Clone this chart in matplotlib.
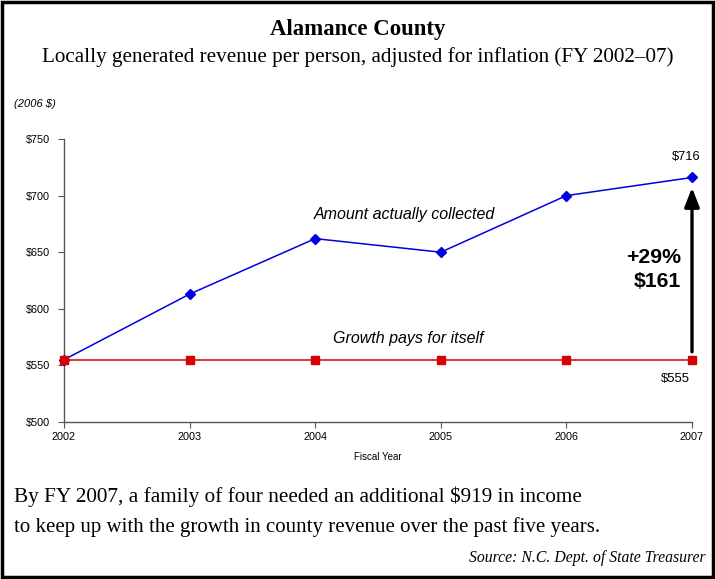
import matplotlib
matplotlib.use("Agg")
import matplotlib.pyplot as plt
from matplotlib.patches import Rectangle
from matplotlib.ticker import MultipleLocator, FuncFormatter

# Data
years = [2002, 2003, 2004, 2005, 2006, 2007]
collected = [555, 613, 662, 650, 700, 716]
growth_pays = [555, 555, 555, 555, 555, 555]

SERIF = ["Liberation Serif", "DejaVu Serif"]
SANS = ["Liberation Sans", "DejaVu Sans"]

fig = plt.figure(figsize=(7.15, 5.79), dpi=100)
renderer = fig.canvas.get_renderer()


def fit(t, width_px):
    # scale font so the text spans the given pixel width
    w = t.get_window_extent(renderer).width
    t.set_fontsize(t.get_fontsize() * width_px / w)
    return t


ax = fig.add_axes([64 / 715, 1 - 422 / 579, (692 - 64) / 715, (422 - 139) / 579])

ax.plot(years, collected, color="#0000e0", linewidth=1.1, marker="D", markersize=4.6, zorder=3, clip_on=False)
ax.plot(years, growth_pays, color="#d80000", linewidth=1.1, marker="s", markersize=5.6, zorder=3, clip_on=False)

ax.set_xlim(2002, 2007)
ax.set_ylim(500, 750)
ax.margins(0)
ax.yaxis.set_major_locator(MultipleLocator(50))
ax.xaxis.set_major_locator(MultipleLocator(1))
ax.yaxis.set_major_formatter(FuncFormatter(lambda v, p: f"${v:.0f}"))
for s in ["top", "right"]:
    ax.spines[s].set_visible(False)
for s in ["left", "bottom"]:
    ax.spines[s].set_color("#555555")
    ax.spines[s].set_linewidth(1.0)
ax.tick_params(axis="both", labelsize=7.8, color="#555555", length=4, direction="out")
ax.tick_params(axis="y", pad=6)
for lab in ax.get_xticklabels() + ax.get_yticklabels():
    lab.set_family(SANS)
ax.set_xlabel("Fiscal Year", fontsize=7, family=SANS, labelpad=7)

# Annotations
last = years[-1]
ax.annotate("", xy=(last, collected[-1] - 9), xytext=(last, growth_pays[-1] + 7),
            arrowprops=dict(arrowstyle="-|>,head_width=0.45,head_length=1.15", color="black", lw=2.4,
                            shrinkA=0, shrinkB=0))
fit(ax.text(last - 0.05, collected[-1] + 13, f"${collected[-1]}", ha="center", va="bottom", fontsize=9, family=SANS), 29)
fit(ax.text(last - 0.13, 538, f"${growth_pays[-1]}", ha="center", va="center", fontsize=9, family=SANS), 29)
diff = collected[-1] - growth_pays[-1]
pct = round(diff / growth_pays[-1] * 100)
t = fit(ax.text(last - 0.09, 645, f"+{pct}%", ha="right", va="center", fontsize=15, fontweight="bold", family=SANS), 55)
ax.text(last - 0.09, 624.5, f"${diff}", ha="right", va="center", fontsize=t.get_fontsize(), fontweight="bold", family=SANS)
fit(ax.text(2004.71, 683, "Amount actually collected", ha="center", va="center", fontsize=11, style="italic", family=SANS), 181)
fit(ax.text(2004.74, 574, "Growth pays for itself", ha="center", va="center", fontsize=11, style="italic", family=SANS), 150)

# Header / footer text
fit(fig.text(0.5, 1 - 30 / 579, "Alamance County", ha="center", va="center", fontsize=16, fontweight="bold", family=SERIF), 176)
fit(fig.text(0.5, 1 - 57 / 579, "Locally generated revenue per person, adjusted for inflation (FY 2002\u201307)",
             ha="center", va="center", fontsize=15, family=SERIF), 635)
fig.text(14 / 715, 1 - 104 / 579, "(2006 $)", ha="left", va="center", fontsize=8, style="italic", family=SANS)
fit(fig.text(14 / 715, 1 - 497 / 579, "By FY 2007, a family of four needed an additional $919 in income",
             ha="left", va="center", fontsize=15, family=SERIF), 569)
fit(fig.text(14 / 715, 1 - 527 / 579, "to keep up with the growth in county revenue over the past five years.",
             ha="left", va="center", fontsize=15, family=SERIF), 589)
fit(fig.text(706 / 715, 1 - 558 / 579, "Source: N.C. Dept. of State Treasurer",
             ha="right", va="center", fontsize=10, style="italic", family=SERIF), 236)

# Frame
fig.patches.append(Rectangle((2 / 715, 2 / 579), 711 / 715, 575 / 579, transform=fig.transFigure,
                             fill=False, edgecolor="black", linewidth=2.5))

fig.savefig("out.png", dpi=100)
